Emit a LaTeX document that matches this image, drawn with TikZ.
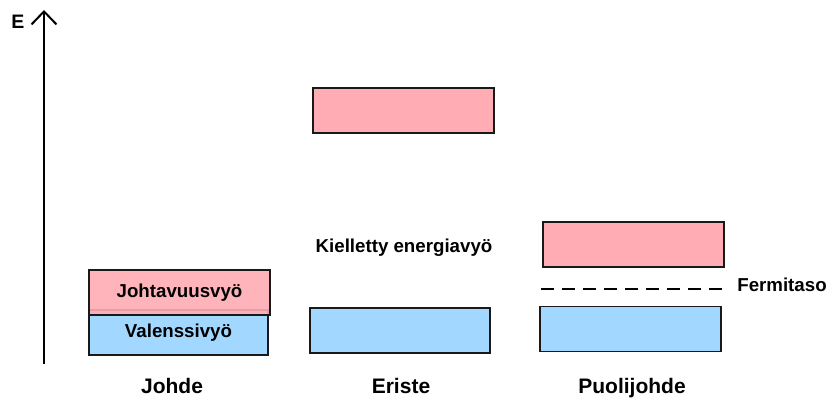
\documentclass[tikz,border=0pt]{standalone}
\usepackage{fontspec}
\setmainfont{Liberation Sans}
\usetikzlibrary{arrows.meta}
\definecolor{condband}{RGB}{255,172,181}
\definecolor{valband}{RGB}{162,216,255}
\definecolor{edge}{RGB}{25,25,25}
\tikzset{
  band/.style={draw=edge, line width=1.5pt, rectangle, inner sep=0pt,
    minimum height=45pt, font=\fontsize{18.7}{22}\selectfont\bfseries},
  cband/.style={band, fill=condband},
  vband/.style={band, fill=valband},
  txt/.style={inner sep=0pt, font=\fontsize{18.7}{22}\selectfont\bfseries},
  caption/.style={inner sep=0pt, anchor=base, font=\fontsize{21}{24}\selectfont\bfseries},
}
\begin{document}
\begin{tikzpicture}[x=1pt,y=-1pt]
\useasboundingbox (0,0) rectangle (829,398);

% energy axis
\coordinate (ax0) at (44,364);
\coordinate (ax1) at (44,10);
\draw[line width=2pt, -{Straight Barb[length=13pt,width=25pt,line width=2pt]}] (ax0) -- (ax1);
\node[inner sep=0pt, font=\fontsize{19.5}{22}\selectfont\bfseries] (elabel) at (18,22) {E};

% conductor: overlapping bands
\node[vband, minimum width=179pt] (jval) at (178.5,332.5) {Valenssivyö};
\node[cband, minimum width=181pt, fill opacity=0.9, text opacity=1] (jcond) at (179.5,292.5) {Johtavuusvyö};

% insulator
\node[cband, minimum width=181pt] (econd) at (403.5,110.5) {};
\node[vband, minimum width=180pt] (eval) at (400,330.5) {};
\node[txt] (gap) at (404,248) {Kielletty energiavyö};

% semiconductor
\node[cband, minimum width=181pt] (pcond) at (633.5,244.5) {};
\node[vband, minimum width=181pt] (pval) at (630.5,329) {};
\coordinate (f1) at (541,289);
\coordinate (f2) at (722,289);
\draw[line width=2.5pt, dash pattern=on 12.8pt off 8.2pt] (f1) -- (f2);
\node[txt] (fermi) at (782,285) {Fermitaso};

% material captions, aligned on a common baseline
\node[caption] (c1) at (172,393) {Johde};
\node[caption] (c2) at (401,393) {Eriste};
\node[caption] (c3) at (632,393) {Puolijohde};
\end{tikzpicture}
\end{document}
